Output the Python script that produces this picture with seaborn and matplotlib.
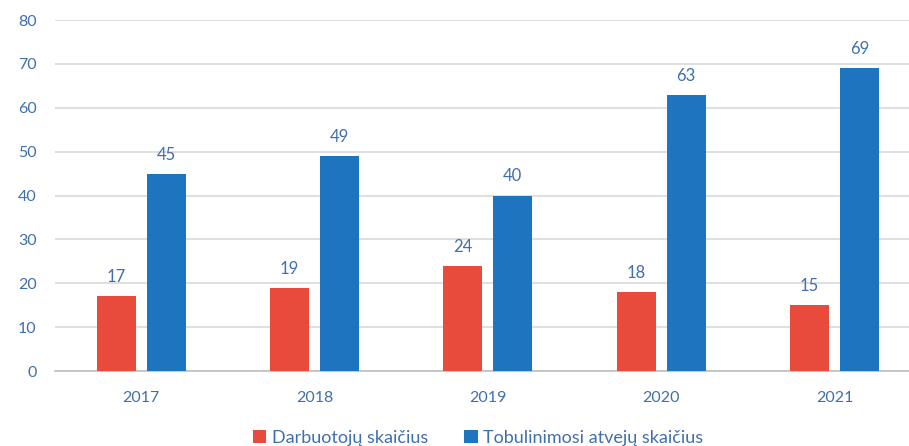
import pandas as pd
import matplotlib.pyplot as plt
import seaborn as sns

# ── Data ───────────────────────────────────────────────────────────
years      = ['2017', '2018', '2019', '2020', '2021']
workers    = [17, 19, 24, 18, 15]
trainings  = [45, 49, 40, 63, 69]
series     = ['Darbuotojų skaičius', 'Tobulinimosi atvejų skaičius']

RED   = '#E84B3C'
BLUE  = '#1C75BE'
LABEL = '#3F6FAE'
GRID  = '#D9D9D9'

df = pd.DataFrame({
    'year':  years * 2,
    'value': workers + trainings,
    'series': [series[0]] * len(years) + [series[1]] * len(years),
})

sns.set_theme(style='white')
plt.rcParams['font.family'] = ['Lato', 'DejaVu Sans']

fig, ax = plt.subplots(figsize=(9.09, 4.46), dpi=100)
fig.subplots_adjust(left=0.060, right=1.0, top=0.955, bottom=0.168)

sns.barplot(data=df, x='year', y='value', hue='series',
            palette=[RED, BLUE], width=0.577, gap=0.22,
            saturation=1, linewidth=0, ax=ax, zorder=3, legend=True)

for cont in ax.containers:
    ax.bar_label(cont, padding=8, color=LABEL, fontsize=12)

ax.set_ylim(0, 80)
ax.set_xlim(-0.5, 4.43)
ax.set_yticks(range(0, 81, 10))
ax.grid(axis='y', color=GRID, linewidth=1.2, zorder=0)
for s in ['top', 'right', 'left']:
    ax.spines[s].set_visible(False)
ax.spines['bottom'].set_color('#BFBFBF')
ax.spines['bottom'].set_linewidth(1.2)
ax.tick_params(axis='both', length=0, colors=LABEL, labelsize=11.5)
ax.tick_params(axis='x', pad=14)
ax.tick_params(axis='y', pad=13)
ax.set_xlabel('')
ax.set_ylabel('')

handles, labels = ax.get_legend_handles_labels()
ax.get_legend().remove()
fig.legend(handles, labels, loc='center', bbox_to_anchor=(0.526, 0.018),
           ncol=2, frameon=False, fontsize=13, labelcolor=LABEL,
           handlelength=0.75, handleheight=0.75, handletextpad=0.3,
           columnspacing=2.0)

plt.savefig('out.png', dpi=100, facecolor='white')
